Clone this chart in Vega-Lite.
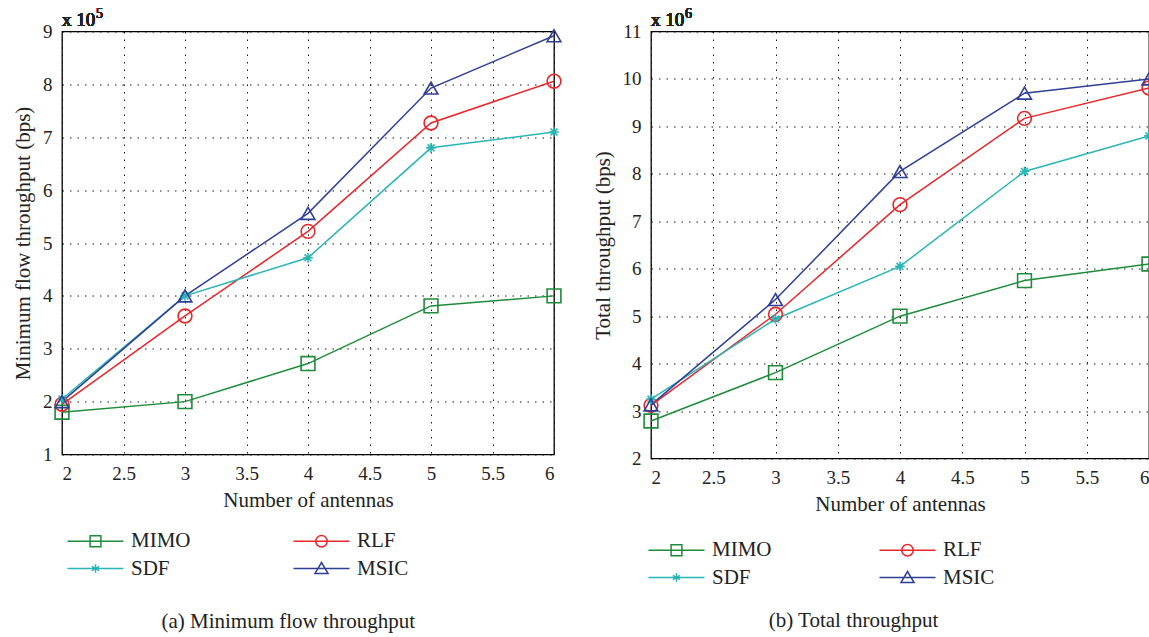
{
  "$schema": "https://vega.github.io/schema/vega-lite/v6.json",
  "padding": {"left": 11, "top": 5.5, "right": 0, "bottom": 0},
  "background": "white",
  "datasets": {
    "minflow": [
      {"n": 2, "method": "MIMO", "v": 1.8}, {"n": 3, "method": "MIMO", "v": 2.0}, {"n": 4, "method": "MIMO", "v": 2.72}, {"n": 5, "method": "MIMO", "v": 3.81}, {"n": 6, "method": "MIMO", "v": 4.0},
      {"n": 2, "method": "RLF", "v": 1.95}, {"n": 3, "method": "RLF", "v": 3.62}, {"n": 4, "method": "RLF", "v": 5.22}, {"n": 5, "method": "RLF", "v": 7.27}, {"n": 6, "method": "RLF", "v": 8.06},
      {"n": 2, "method": "SDF", "v": 2.05}, {"n": 3, "method": "SDF", "v": 4.0}, {"n": 4, "method": "SDF", "v": 4.72}, {"n": 5, "method": "SDF", "v": 6.8}, {"n": 6, "method": "SDF", "v": 7.1},
      {"n": 2, "method": "MSIC", "v": 2.0}, {"n": 3, "method": "MSIC", "v": 4.0}, {"n": 4, "method": "MSIC", "v": 5.56}, {"n": 5, "method": "MSIC", "v": 7.93}, {"n": 6, "method": "MSIC", "v": 8.92}
    ],
    "total": [
      {"n": 2, "method": "MIMO", "v": 2.79}, {"n": 3, "method": "MIMO", "v": 3.81}, {"n": 4, "method": "MIMO", "v": 5.0}, {"n": 5, "method": "MIMO", "v": 5.75}, {"n": 6, "method": "MIMO", "v": 6.1},
      {"n": 2, "method": "RLF", "v": 3.12}, {"n": 3, "method": "RLF", "v": 5.04}, {"n": 4, "method": "RLF", "v": 7.35}, {"n": 5, "method": "RLF", "v": 9.17}, {"n": 6, "method": "RLF", "v": 9.81},
      {"n": 2, "method": "SDF", "v": 3.25}, {"n": 3, "method": "SDF", "v": 4.94}, {"n": 4, "method": "SDF", "v": 6.05}, {"n": 5, "method": "SDF", "v": 8.05}, {"n": 6, "method": "SDF", "v": 8.8},
      {"n": 2, "method": "MSIC", "v": 3.13}, {"n": 3, "method": "MSIC", "v": 5.35}, {"n": 4, "method": "MSIC", "v": 8.05}, {"n": 5, "method": "MSIC", "v": 9.7}, {"n": 6, "method": "MSIC", "v": 10.0}
    ]
  },
  "config": {
    "font": "Liberation Serif",
    "view": {"stroke": "#000", "strokeWidth": 1.3},
    "axis": {
      "labelFont": "Liberation Serif", "labelFontSize": 19, "labelColor": "#222",
      "titleFont": "Liberation Serif", "titleFontSize": 21, "titleFontWeight": "normal", "titleColor": "#222",
      "grid": true, "gridColor": "#000", "gridDash": [1.5, 6], "gridWidth": 1, "gridOpacity": 0.9,
      "domain": false, "ticks": false
    },
    "axisX": {"labelPadding": 10, "titlePadding": 6},
    "axisY": {"labelPadding": 10, "titlePadding": 9},
    "legend": {
      "padding": 0, "symbolSize": 144, "symbolStrokeWidth": 1.5,
      "labelFont": "Liberation Serif", "labelFontSize": 21, "labelColor": "#222", "labelOffset": 25,
      "rowPadding": 5.5
    },
    "title": {"font": "Liberation Serif", "fontSize": 21, "fontWeight": "normal", "color": "#222"}
  },
  "spacing": 26,
  "hconcat": [
    {
      "width": 492, "height": 423,
      "data": {"name": "minflow"},
      "title": {"text": "(a)  Minimum flow throughput", "orient": "bottom", "anchor": "middle", "frame": "bounds", "offset": 32},
      "layer": [
        {
          "mark": {"type": "line", "strokeWidth": 1.5},
          "encoding": {
            "x": {"field": "n", "type": "quantitative", "scale": {"domain": [2, 6], "nice": false, "zero": false}, "axis": {"values": [2, 2.5, 3, 3.5, 4, 4.5, 5, 5.5, 6], "format": "~g", "title": "Number of antennas"}},
            "y": {"field": "v", "type": "quantitative", "scale": {"domain": [1, 9], "nice": false, "zero": false}, "axis": {"values": [1, 2, 3, 4, 5, 6, 7, 8, 9], "format": "d", "title": "Minimum flow throughput (bps)"}},
            "color": {"field": "method", "type": "nominal", "scale": {"domain": ["MIMO", "SDF", "RLF", "MSIC"], "range": ["#1e8b3a", "#2ab5b5", "#e8262b", "#2f3f95"]}, "legend": null}
          }
        },
        {
          "mark": {"type": "point", "filled": false, "size": 190, "strokeWidth": 1.6, "opacity": 1},
          "encoding": {
            "x": {"field": "n", "type": "quantitative"},
            "y": {"field": "v", "type": "quantitative"},
            "color": {"field": "method", "type": "nominal", "scale": {"domain": ["MIMO", "SDF", "RLF", "MSIC"], "range": ["#1e8b3a", "#2ab5b5", "#e8262b", "#2f3f95"]}, "legend": null},
            "shape": {"field": "method", "type": "nominal", "scale": {"domain": ["MIMO", "SDF", "RLF", "MSIC"], "range": ["square", "M-0.7,0H0.7M0,-0.7V0.7M-0.5,-0.5L0.5,0.5M-0.5,0.5L0.5,-0.5", "circle", "triangle-up"]}, "legend": null}
          }
        },
        {
          "transform": [{"filter": "false"}],
          "mark": {"type": "point", "filled": false, "size": 144, "strokeWidth": 1.5, "opacity": 1},
          "encoding": {
            "x": {"field": "n", "type": "quantitative"},
            "y": {"field": "v", "type": "quantitative"},
            "color": {"field": "method", "type": "nominal", "scale": {"domain": ["MIMO", "SDF", "RLF", "MSIC"], "range": ["#1e8b3a", "#2ab5b5", "#e8262b", "#2f3f95"]}, "legend": {"orient": "none", "title": null, "columns": 2, "columnPadding": 99, "legendX": 23, "legendY": 499}},
            "shape": {"field": "method", "type": "nominal", "scale": {"domain": ["MIMO", "SDF", "RLF", "MSIC"], "range": ["M-4.67,0H4.67M-0.9,-0.9H0.9V0.9H-0.9Z", "M-4.67,0H4.67M0,-0.7V0.7M-0.6,-0.35L0.6,0.35M-0.6,0.35L0.6,-0.35", "M-4.67,0H4.67M-0.95,0A0.95,0.95,0,1,0,0.95,0A0.95,0.95,0,1,0,-0.95,0", "M-4.67,0H4.67M-1.1,0.85L0,-1L1.1,0.85Z"]}, "legend": {"orient": "none", "title": null, "columns": 2, "columnPadding": 99, "legendX": 23, "legendY": 499}}
          }
        },
        {
          "mark": {"type": "text", "align": "left", "baseline": "alphabetic", "dy": -6, "fontSize": 19, "font": "Liberation Serif", "color": "#222"},
          "encoding": {
            "x": {"datum": 2, "type": "quantitative"},
            "y": {"datum": 9, "type": "quantitative"},
            "text": {"value": "x 10"}
          }
        },
        {
          "mark": {"type": "text", "align": "left", "baseline": "alphabetic", "dx": 34, "dy": -14, "fontSize": 14, "font": "Liberation Serif", "color": "#222"},
          "encoding": {
            "x": {"datum": 2, "type": "quantitative"},
            "y": {"datum": 9, "type": "quantitative"},
            "text": {"value": "5"}
          }
        }
      ],
      "resolve": {"scale": {"shape": "independent", "color": "independent"}, "legend": {"shape": "independent", "color": "independent"}}
    },
    {
      "width": 498, "height": 427,
      "data": {"name": "total"},
      "title": {"text": "(b)  Total throughput", "orient": "bottom", "anchor": "middle", "frame": "bounds", "offset": 22, "dx": -22},
      "layer": [
        {
          "mark": {"type": "line", "strokeWidth": 1.5},
          "encoding": {
            "x": {"field": "n", "type": "quantitative", "scale": {"domain": [2, 6], "nice": false, "zero": false}, "axis": {"values": [2, 2.5, 3, 3.5, 4, 4.5, 5, 5.5, 6], "format": "~g", "title": "Number of antennas"}},
            "y": {"field": "v", "type": "quantitative", "scale": {"domain": [2, 11], "nice": false, "zero": false}, "axis": {"values": [2, 3, 4, 5, 6, 7, 8, 9, 10, 11], "format": "d", "title": "Total throughput (bps)"}},
            "color": {"field": "method", "type": "nominal", "scale": {"domain": ["MIMO", "SDF", "RLF", "MSIC"], "range": ["#1e8b3a", "#2ab5b5", "#e8262b", "#2f3f95"]}, "legend": null}
          }
        },
        {
          "mark": {"type": "point", "filled": false, "size": 190, "strokeWidth": 1.6, "opacity": 1},
          "encoding": {
            "x": {"field": "n", "type": "quantitative"},
            "y": {"field": "v", "type": "quantitative"},
            "color": {"field": "method", "type": "nominal", "scale": {"domain": ["MIMO", "SDF", "RLF", "MSIC"], "range": ["#1e8b3a", "#2ab5b5", "#e8262b", "#2f3f95"]}, "legend": null},
            "shape": {"field": "method", "type": "nominal", "scale": {"domain": ["MIMO", "SDF", "RLF", "MSIC"], "range": ["square", "M-0.7,0H0.7M0,-0.7V0.7M-0.5,-0.5L0.5,0.5M-0.5,0.5L0.5,-0.5", "circle", "triangle-up"]}, "legend": null}
          }
        },
        {
          "transform": [{"filter": "false"}],
          "mark": {"type": "point", "filled": false, "size": 144, "strokeWidth": 1.5, "opacity": 1},
          "encoding": {
            "x": {"field": "n", "type": "quantitative"},
            "y": {"field": "v", "type": "quantitative"},
            "color": {"field": "method", "type": "nominal", "scale": {"domain": ["MIMO", "SDF", "RLF", "MSIC"], "range": ["#1e8b3a", "#2ab5b5", "#e8262b", "#2f3f95"]}, "legend": {"orient": "none", "title": null, "columns": 2, "columnPadding": 104, "legendX": 15, "legendY": 508}},
            "shape": {"field": "method", "type": "nominal", "scale": {"domain": ["MIMO", "SDF", "RLF", "MSIC"], "range": ["M-4.67,0H4.67M-0.9,-0.9H0.9V0.9H-0.9Z", "M-4.67,0H4.67M0,-0.7V0.7M-0.6,-0.35L0.6,0.35M-0.6,0.35L0.6,-0.35", "M-4.67,0H4.67M-0.95,0A0.95,0.95,0,1,0,0.95,0A0.95,0.95,0,1,0,-0.95,0", "M-4.67,0H4.67M-1.1,0.85L0,-1L1.1,0.85Z"]}, "legend": {"orient": "none", "title": null, "columns": 2, "columnPadding": 104, "legendX": 15, "legendY": 508}}
          }
        },
        {
          "mark": {"type": "text", "align": "left", "baseline": "alphabetic", "dy": -6, "fontSize": 19, "font": "Liberation Serif", "color": "#222"},
          "encoding": {
            "x": {"datum": 2, "type": "quantitative"},
            "y": {"datum": 11, "type": "quantitative"},
            "text": {"value": "x 10"}
          }
        },
        {
          "mark": {"type": "text", "align": "left", "baseline": "alphabetic", "dx": 34, "dy": -14, "fontSize": 14, "font": "Liberation Serif", "color": "#222"},
          "encoding": {
            "x": {"datum": 2, "type": "quantitative"},
            "y": {"datum": 11, "type": "quantitative"},
            "text": {"value": "6"}
          }
        }
      ],
      "resolve": {"scale": {"shape": "independent", "color": "independent"}, "legend": {"shape": "independent", "color": "independent"}}
    }
  ],
  "resolve": {"scale": {"x": "independent", "y": "independent", "color": "independent", "shape": "independent"}, "legend": {"color": "independent", "shape": "independent"}}
}
